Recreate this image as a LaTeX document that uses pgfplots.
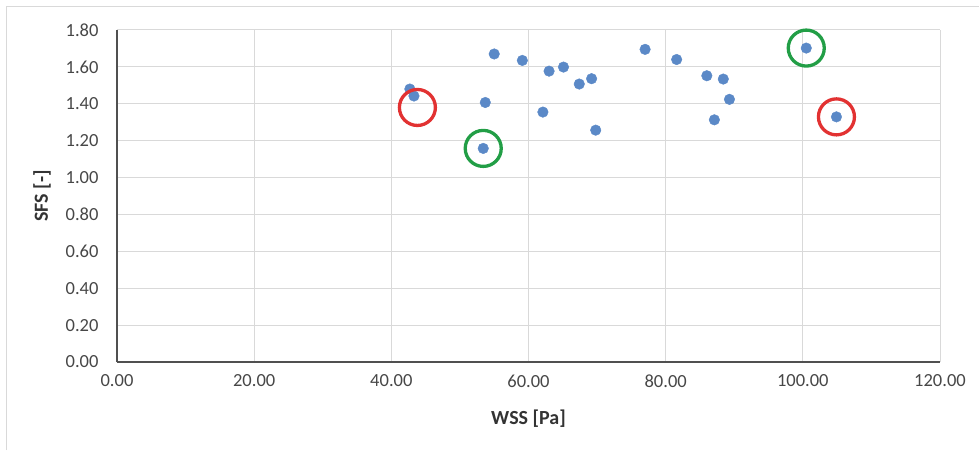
\documentclass[border=0pt]{standalone}
\usepackage{pgfplots}
\pgfplotsset{compat=1.18}
\usepackage{fontspec}
\setmainfont{Carlito}
\definecolor{dotblue}{RGB}{91,137,199}
\definecolor{cred}{RGB}{226,50,50}
\definecolor{cgreen}{RGB}{34,158,70}
\definecolor{gridgray}{RGB}{217,217,217}
\definecolor{axgray}{RGB}{80,80,80}
\begin{document}
\begin{tikzpicture}
\useasboundingbox (-117pt,-88pt) rectangle (862pt,362pt);
\begin{axis}[
  scale only axis, width=823pt, height=332pt,
  at={(0pt,0pt)}, anchor=south west,
  xmin=0, xmax=120, ymin=0, ymax=1.8,
  xtick={0,20,...,120}, ytick={0,0.2,...,1.8},
  axis x line*=bottom, axis y line*=left,
  axis line style={-, axgray, line width=1.5pt},
  grid=major, major grid style={gridgray, line width=1pt},
  major tick length=0pt,
  /pgf/number format/assume math mode=true,
  /pgf/number format/.cd, fixed, fixed zerofill, precision=2, /pgfplots/.cd,
  tick label style={font=\fontsize{18.5}{20}\selectfont, text=black!72},
  xticklabel style={yshift=-9pt},
  yticklabel style={xshift=-15pt},
  xlabel={\textbf{WSS [Pa]}}, ylabel={\textbf{SFS [-]}},
  label style={font=\fontsize{20}{22}\selectfont, text=black!80},
  xlabel style={at={(axis description cs:0.5,0)}, anchor=center, yshift=-57pt},
  ylabel style={at={(axis description cs:0,0.5)}, anchor=center, yshift=75pt},
  clip=false,
]
\addplot[only marks, mark=*, mark size=5.3pt, dotblue, mark options={draw=dotblue, fill=dotblue}] coordinates {
(42.7,1.480) (43.3,1.442) (55.0,1.670) (59.1,1.635) (63.0,1.577) (65.1,1.599)
(67.4,1.507) (69.2,1.536) (53.7,1.407) (62.1,1.355) (69.8,1.257) (53.4,1.158)
(77.0,1.695) (81.6,1.640) (86.0,1.552) (88.4,1.534) (89.3,1.424) (87.1,1.313)
(100.5,1.702) (104.9,1.329)
};
\addplot[only marks, mark=o, mark size=18pt, cred, mark options={line width=3.3pt}] coordinates {
(43.8,1.380) (104.9,1.329)
};
\addplot[only marks, mark=o, mark size=18pt, cgreen, mark options={line width=3.3pt}] coordinates {
(53.4,1.158) (100.5,1.702)
};
\end{axis}
\draw[gridgray, line width=1pt] (-110pt,-88pt) -- (-110pt,355pt) -- (862pt,355pt);
\end{tikzpicture}
\end{document}
